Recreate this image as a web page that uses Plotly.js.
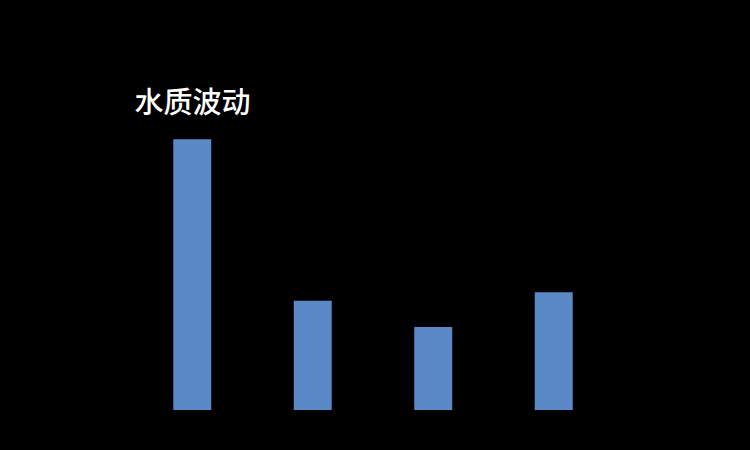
<!DOCTYPE html>
<html>
<head>
<meta charset="utf-8">
<script src="https://cdn.plot.ly/plotly-3.0.1.min.js"></script>
<style>
  html, body { margin: 0; padding: 0; background: #000; }
  #chart { width: 750px; height: 450px; }
</style>
</head>
<body>
<div id="chart"></div>
<script>
const categories = ['1', '2', '3', '4']
const values = [5.08, 2.05, 1.56, 2.21]

var bars = {
  x: categories,
  y: values,
  type: 'bar',
  marker: { color: '#5b89c7' },
  hoverinfo: 'none'
};

var layout = {
  width: 750,
  height: 450,
  paper_bgcolor: '#000',
  plot_bgcolor: '#000',
  margin: { l: 132, r: 136, t: 117, b: 40 },
  bargap: 0.685,
  showlegend: false,
  title: {
    text: '水质波动',
    font: { family: 'Noto Sans CJK SC', size: 29, color: '#fff', weight: 500 },
    xref: 'paper',
    x: 0.005,
    xanchor: 'left',
    yref: 'container',
    y: 1 - 103 / 450,
    yanchor: 'middle'
  },
  xaxis: {
    type: 'category',
    showgrid: false,
    zeroline: false,
    showline: false,
    tickfont: { color: '#000' }
  },
  yaxis: {
    range: [0, 5.5],
    dtick: 1,
    gridcolor: '#000',
    zeroline: false,
    showline: false,
    tickfont: { color: '#000' }
  }
};

Plotly.newPlot('chart', [bars], layout, { displayModeBar: false, staticPlot: true });
</script>
</body>
</html>
